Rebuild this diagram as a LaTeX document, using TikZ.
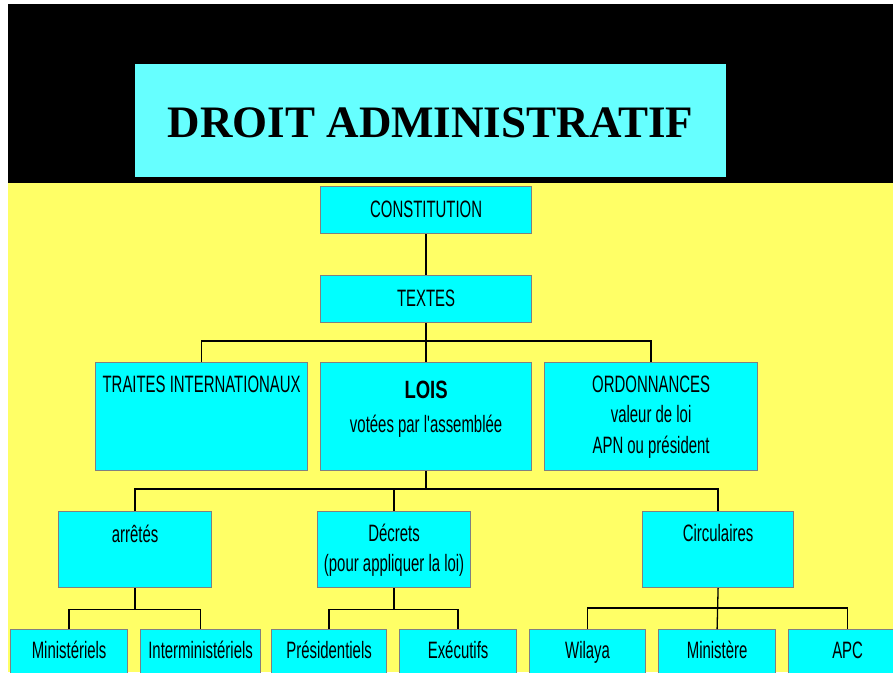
\documentclass[tikz,border=0pt]{standalone}
\usepackage{fontspec}
\setmainfont{Liberation Sans}
\newfontfamily\nf[FakeStretch=0.63]{Liberation Sans}
\newfontfamily\nfb[FakeStretch=0.74]{Liberation Sans}
\newfontfamily\titlefont{Liberation Serif}
\definecolor{bgyellow}{HTML}{FFFF66}
\definecolor{boxcyan}{HTML}{00FFFF}
\definecolor{titlecyan}{HTML}{66FFFF}
\definecolor{boxgray}{HTML}{808080}
\begin{document}
\begin{tikzpicture}[x=1pt,y=-1pt,
  box/.style={draw=boxgray, fill=boxcyan, line width=1.2pt, inner sep=0pt, anchor=north west, rectangle},
  lbl/.style={anchor=base, inner sep=0pt, font=\nf\fontsize{23.7}{28}\selectfont},
  blbl/.style={anchor=base, inner sep=0pt, font=\nfb\bfseries\fontsize{25}{30}\selectfont},
  conn/.style={draw=black, line width=1.3pt}]
\useasboundingbox (0,0) rectangle (893,672);
\clip (0,0) rectangle (893,672);
\fill[white] (0,0) rectangle (893,672);
\fill[black] (8,4) rectangle (893,183);
\fill[bgyellow] (8,183) rectangle (893,672);
% title
\node[anchor=north west, fill=titlecyan, inner sep=0pt, minimum width=591pt, minimum height=113pt] (titlebox) at (135,64) {};
\node[anchor=base, inner sep=0pt, font=\titlefont\bfseries\fontsize{45}{50}\selectfont] (title) at (430.5,137) {DROIT ADMINISTRATIF};
% level 1-2
\node[box, minimum width=211pt, minimum height=47pt] (const) at (320,186) {};
\node[box, minimum width=211pt, minimum height=47pt] (textes) at (320,275) {};
% level 3
\node[box, minimum width=212pt, minimum height=108pt] (traites) at (95,362) {};
\node[box, minimum width=211pt, minimum height=108pt] (lois) at (320,362) {};
\node[box, minimum width=213pt, minimum height=108pt] (ord) at (544,362) {};
% level 4
\node[box, minimum width=153pt, minimum height=76pt] (arretes) at (58,511) {};
\node[box, minimum width=153pt, minimum height=76pt] (decrets) at (317,511) {};
\node[box, minimum width=151pt, minimum height=76pt] (circ) at (642,511) {};
% level 5
\node[box, minimum width=117pt, minimum height=60pt] (mini) at (10,629) {};
\node[box, minimum width=120pt, minimum height=60pt] (inter) at (140,629) {};
\node[box, minimum width=115pt, minimum height=60pt] (pres) at (271,629) {};
\node[box, minimum width=117pt, minimum height=60pt] (exec) at (399,629) {};
\node[box, minimum width=116pt, minimum height=60pt] (wilaya) at (529,629) {};
\node[box, minimum width=117pt, minimum height=60pt] (minist) at (658,629) {};
\node[box, minimum width=118pt, minimum height=60pt] (apc) at (788,629) {};
% labels
\node[lbl] (lconst) at ([yshift=-31pt]const.north) {CONSTITUTION};
\node[lbl] (ltextes) at ([yshift=-31pt]textes.north) {TEXTES};
\node[lbl] (ltraites) at ([yshift=-30pt]traites.north) {TRAITES INTERNATIONAUX};
\node[blbl] (llois) at ([yshift=-36pt]lois.north) {LOIS};
\node[lbl] (llois2) at ([yshift=-70pt]lois.north) {votées par l'assemblée};
\node[lbl] (lord) at ([yshift=-30pt]ord.north) {ORDONNANCES};
\node[lbl] (lord2) at ([yshift=-60pt]ord.north) {valeur de loi};
\node[lbl] (lord3) at ([yshift=-91pt]ord.north) {APN ou président};
\node[lbl] (larr) at ([yshift=-31pt]arretes.north) {arrêtés};
\node[lbl] (ldec) at ([yshift=-30pt]decrets.north) {Décrets};
\node[lbl] (ldec2) at ([yshift=-60pt]decrets.north) {(pour appliquer la loi)};
\node[lbl] (lcirc) at ([yshift=-30pt]circ.north) {Circulaires};
\node[lbl] (lmini) at ([yshift=-29pt]mini.north) {Ministériels};
\node[lbl] (linter) at ([yshift=-29pt]inter.north) {Interministériels};
\node[lbl] (lpres) at ([yshift=-29pt]pres.north) {Présidentiels};
\node[lbl] (lexec) at ([yshift=-29pt]exec.north) {Exécutifs};
\node[lbl] (lwil) at ([yshift=-29pt]wilaya.north) {Wilaya};
\node[lbl] (lmin) at ([yshift=-29pt]minist.north) {Ministère};
\node[lbl] (lapc) at ([yshift=-29pt]apc.north) {APC};
% connectors
\draw[conn] (const.south) -- (textes.north);
\draw[conn] (textes.south) -- (lois.north);
\draw[conn] (traites.north) -- ++(0,-21) -| (ord.north);
\draw[conn] (lois.south) -- ++(0,19) coordinate (j2);
\draw[conn] (arretes.north) -- ++(0,-22) -| (circ.north);
\draw[conn] (decrets.north) -- (decrets.north |- j2);
\draw[conn] (arretes.south) -- ++(0,21) coordinate (j3);
\draw[conn] (mini.north) |- (j3) -| (inter.north);
\draw[conn] (decrets.south) -- ++(0,21) coordinate (j4);
\draw[conn] (pres.north) |- (j4) -| (exec.north);
\draw[conn] (circ.south) -- (minist.north);
\draw[conn] (wilaya.north) -- ++(0,-21) -| (apc.north);
\end{tikzpicture}
\end{document}
